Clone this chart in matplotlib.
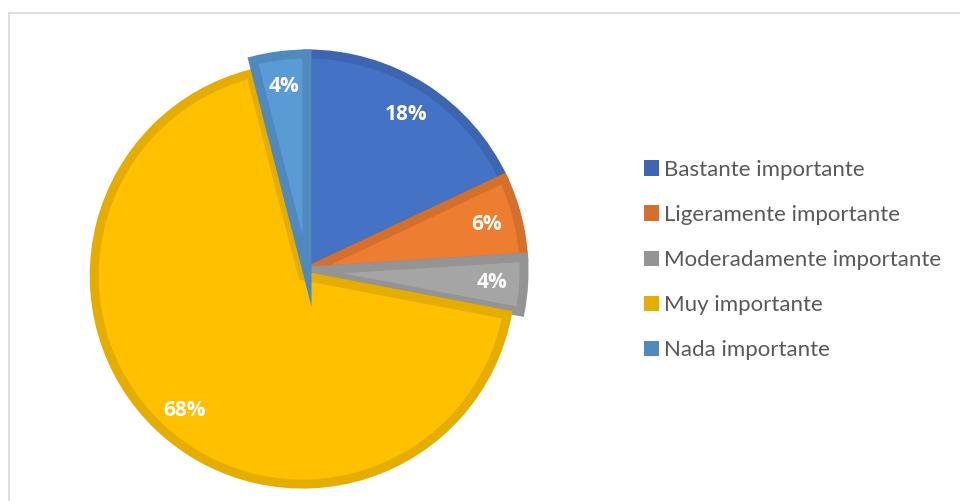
import matplotlib.pyplot as plt
from matplotlib.patches import Patch
from matplotlib.lines import Line2D

# Data
categories = ["Bastante importante", "Ligeramente importante",
              "Moderadamente importante", "Muy importante", "Nada importante"]
values = [18, 6, 4, 68, 4]

# Excel-like palette: fill and darker border of the same hue
face_colors = ["#4472C4", "#ED7D31", "#A5A5A5", "#FFC000", "#5B9BD5"]
edge_colors = ["#3D65B0", "#D46F2C", "#949494", "#E5AD00", "#5089BE"]
explode = [0, 0, 0, 0.03, 0]

fig = plt.figure(figsize=(9.6, 5.01), dpi=100)

# pie axes: centre ~ (307, 271) px, radius ~217 px
lim = 1.1
half = 217 * lim
ax = fig.add_axes([(307 - half) / 960, (230 - half) / 501, 2 * half / 960, 2 * half / 501])

wedges, texts, autotexts = ax.pie(
    values, colors=face_colors, explode=explode, startangle=90, counterclock=False,
    radius=1.0, autopct="%1.0f%%", pctdistance=0.855,
    wedgeprops=dict(linewidth=6.5), textprops=dict(color="white", fontsize=15,
                                                   fontweight="bold", family="Open Sans"))
ax.set_xlim(-lim, lim)
ax.set_ylim(-lim, lim)
ax.set_aspect("equal")
ax.axis("off")

for w, ec in zip(wedges, edge_colors):
    w.set_edgecolor(ec)
    w.set_clip_on(False)
wedges[3].set_radius(0.96)
autotexts[3].set_position((autotexts[3].get_position()[0] + 0.04,
                           autotexts[3].get_position()[1] - 0.0))

# legend on the right
handles = [Patch(facecolor=c, edgecolor="none") for c in edge_colors]
leg = fig.legend(handles, categories, loc="center left", bbox_to_anchor=(644 / 960, 241 / 501),
                 frameon=False, borderpad=0, borderaxespad=0, handlelength=0.68,
                 handleheight=0.68, handletextpad=0.22, labelspacing=1.13,
                 prop=dict(family="Lato", size=16))
for t in leg.get_texts():
    t.set_color("#595959")

# light grey chart frame (top and left edges visible)
fig.add_artist(Line2D([9 / 960, 1], [1 - 13 / 501, 1 - 13 / 501], color="#d9d9d9", lw=1.2))
fig.add_artist(Line2D([9 / 960, 9 / 960], [0, 1 - 13 / 501], color="#d9d9d9", lw=1.2))

fig.savefig("out.png", dpi=100)
